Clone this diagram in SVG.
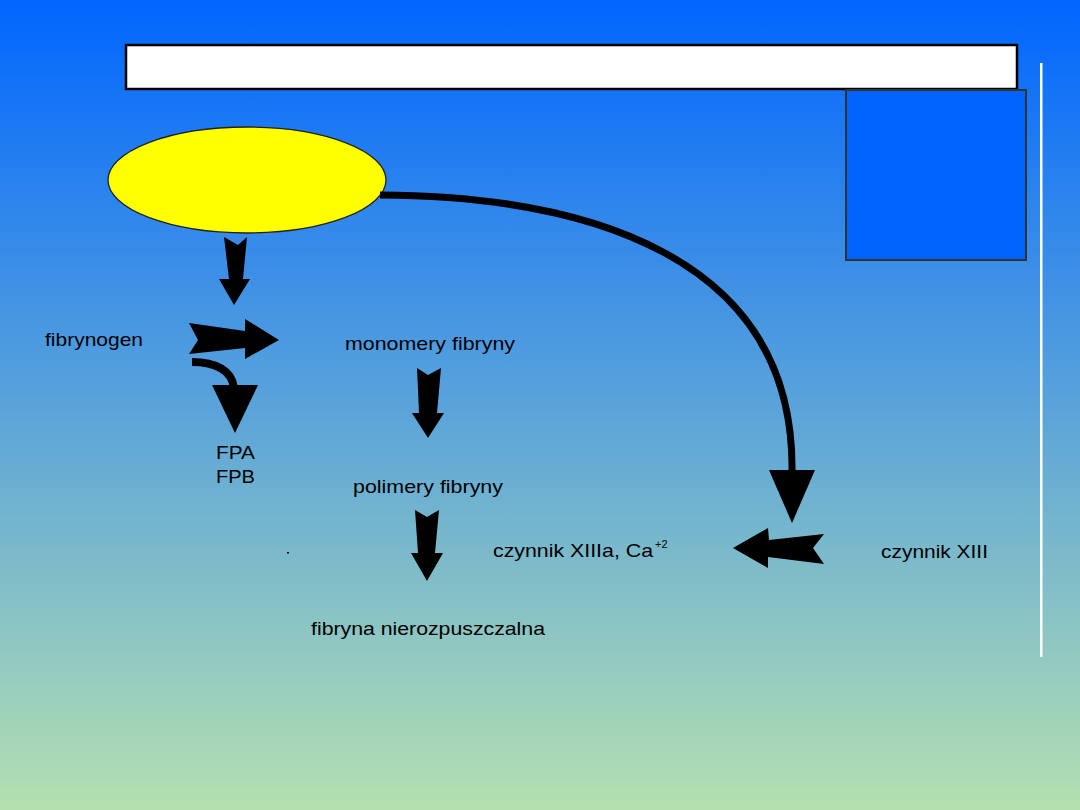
<svg xmlns="http://www.w3.org/2000/svg" width="1080" height="810" viewBox="0 0 1080 810">
<defs>
<linearGradient id="bg" x1="0" y1="0" x2="0" y2="1">
<stop offset="0" stop-color="#0066FF"/>
<stop offset="0.5" stop-color="#5AA3DA"/>
<stop offset="1" stop-color="#B4E0B0"/>
</linearGradient>
</defs>
<style>
.t{font-family:"Liberation Sans",Arial,sans-serif;font-size:19px;fill:#000}
.a{fill:#000;stroke:none}
.c{fill:none;stroke:#000}
</style>
<rect x="0" y="0" width="1080" height="810" fill="url(#bg)"/>
<rect x="1040" y="63" width="2.5" height="594" fill="#fff"/>
<g id="title"><rect x="126" y="45" width="891" height="44" fill="#fff" stroke="#000" stroke-width="2.5"/></g>
<g id="bluebox"><rect x="846" y="90" width="180" height="170" fill="#0062FF" stroke="#333" stroke-width="2"/></g>
<g id="ellipse"><ellipse cx="247" cy="180" rx="139" ry="53" fill="#FFFF00" stroke="#222" stroke-width="1.3"/></g>
<g id="connectors">
<polygon class="a" points="224,237 238,245 247,237 243,279 250,279 234,305 219,279 229,279"/>
<polygon class="a" points="189,323 245,331 245,319 279,340 245,359 245,348 189,354 198,340"/>
<path class="c" d="M192 362 C215 362 232 370 234 388" stroke-width="8"/>
<polygon class="a" points="212,385 258,385 235,433"/>
<polygon class="a" points="417,368 428,375 441,368 437,413 444,413 428,438 412,413 419,413"/>
<polygon class="a" points="415,510 427,517 439,510 435,553 443,553 427,581 411,553 418,553"/>
<polygon class="a" points="733,548 768,528 769,540 824,534 813,548 824,564 768,557 768,568"/>
<path class="c" d="M380 195 C585 196 795 255 792 472" stroke-width="7"/>
<polygon class="a" points="769,470 815,470 792,523"/>
</g>
<g id="labels">
<text class="t" x="45" y="346" textLength="98" lengthAdjust="spacingAndGlyphs">fibrynogen</text>
<text class="t" x="345" y="350" textLength="170" lengthAdjust="spacingAndGlyphs">monomery fibryny</text>
<text class="t" x="216" y="459" textLength="39" lengthAdjust="spacingAndGlyphs">FPA</text>
<text class="t" x="216" y="483" textLength="39" lengthAdjust="spacingAndGlyphs">FPB</text>
<text class="t" x="353" y="493" textLength="150" lengthAdjust="spacingAndGlyphs">polimery fibryny</text>
<text class="t" x="493" y="557" textLength="160" lengthAdjust="spacingAndGlyphs">czynnik XIIIa, Ca</text>
<text class="t" x="655" y="548" style="font-size:11px">+2</text>
<text class="t" x="881" y="558" textLength="107" lengthAdjust="spacingAndGlyphs">czynnik XIII</text>
<text class="t" x="311" y="635" textLength="234" lengthAdjust="spacingAndGlyphs">fibryna nierozpuszczalna</text>
</g>
<rect x="287" y="552" width="2" height="1.5" fill="#000"/>
</svg>
